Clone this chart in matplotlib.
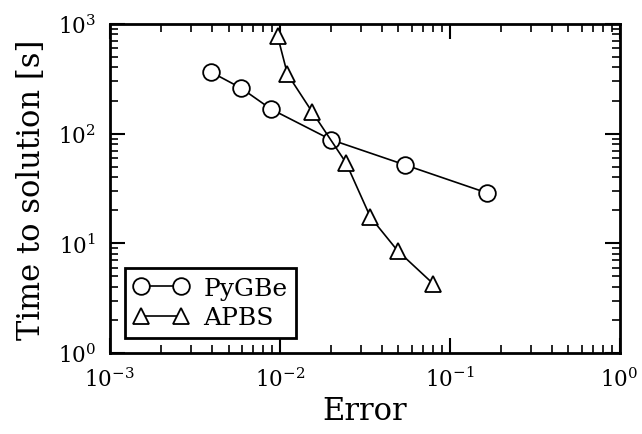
import matplotlib
matplotlib.use("Agg")
import matplotlib.pyplot as plt

pygbe_error = [0.00396, 0.00594, 0.00889, 0.0200, 0.0543, 0.167]
pygbe_time = [362, 259, 167, 88, 52, 28.7]
apbs_error = [0.00973, 0.0111, 0.0155, 0.0246, 0.0342, 0.0494, 0.0803]
apbs_time = [768, 349, 158, 54, 17.3, 8.57, 4.26]
labels = ["PyGBe", "APBS"]

plt.rcParams["font.family"] = "DejaVu Serif"
plt.rcParams["mathtext.fontset"] = "dejavuserif"

fig = plt.figure(figsize=(6.42, 4.35), dpi=100)
ax = fig.add_axes([0.171, 0.186, 0.794, 0.757])

ax.loglog(pygbe_error, pygbe_time, color="k", lw=1.2, marker="o", ms=12,
          mfc="w", mec="k", mew=1.3, label=labels[0])
ax.loglog(apbs_error, apbs_time, color="k", lw=1.2, marker="^", ms=12,
          mfc="w", mec="k", mew=1.3, label=labels[1])

ax.set_xlim(1e-3, 1)
ax.set_ylim(1, 1e3)
ax.set_xlabel("Error", fontsize=22, labelpad=3)
ax.set_ylabel("Time to solution [s]", fontsize=22, labelpad=8)

for s in ax.spines.values():
    s.set_linewidth(2)
ax.tick_params(which="both", direction="in", top=True, right=True, labelsize=15.5)
ax.tick_params(which="major", length=11, width=1.5, pad=10)
ax.tick_params(which="minor", length=6, width=1.2)

leg = ax.legend(loc="lower left", numpoints=2, fontsize=18, fancybox=False,
                edgecolor="k", framealpha=1, handlelength=2.2, borderpad=0.35,
                handletextpad=0.6, labelspacing=0.25, borderaxespad=0.6)
leg.get_frame().set_linewidth(2)

fig.savefig("out.png", dpi=100)
